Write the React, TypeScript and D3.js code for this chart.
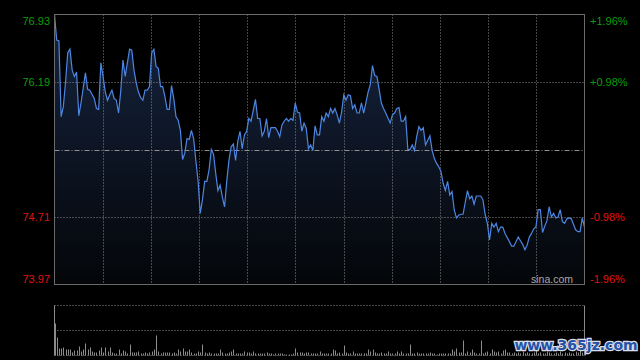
import React, { useEffect, useRef } from "react";
import * as d3 from "d3";

// intraday minutes (0 = open, 240 = close) and last price
const minutes = [
  0, 1, 2, 3, 4, 5, 6, 7, 8, 9, 10, 11, 12, 14, 15, 16, 18, 19, 20, 21, 22, 23, 24, 25, 26, 27, 28, 29, 30,
  31, 32, 34, 35, 36, 37, 38, 39, 40, 41, 42, 43, 44, 45, 46, 47, 48, 49, 50, 51, 52, 53, 54, 55, 56, 57, 58,
  59, 60, 61, 62, 63, 64, 65, 66, 67, 68, 69, 70, 71, 72, 73, 74, 75, 76, 77, 78, 79, 80, 81, 82, 83, 84, 85,
  86, 87, 88, 89, 90, 91, 92, 93, 94, 95, 96, 97, 98, 100, 101, 102, 103, 104, 105, 106, 107, 108, 109, 110,
  111, 112, 113, 114, 115, 116, 117, 118, 119, 120, 121, 122, 123, 124, 125, 126, 127, 128, 129, 130, 131,
  132, 133, 134, 135, 136, 137, 138, 139, 140, 141, 142, 143, 144, 145, 146, 147, 148, 149, 150, 152, 153,
  154, 155, 156, 157, 158, 159, 160, 161, 162, 163, 164, 165, 166, 167, 168, 170, 171, 172, 173, 174, 175,
  176, 177, 178, 179, 180, 181, 182, 183, 184, 185, 187, 188, 189, 190, 191, 193, 194, 195, 196, 197, 198,
  199, 200, 201, 202, 203, 204, 206, 207, 208, 210, 211, 212, 213, 214, 215, 216, 217, 218, 219, 220, 221,
  222, 223, 224, 225, 226, 227, 228, 229, 230, 231, 232, 233, 234, 236, 237, 238, 239, 240,
];
const prices = [
  76.93, 76.65, 76.64, 75.81, 75.92, 76.19, 76.51, 76.55, 76.32, 76.25, 76.3, 75.82, 75.96, 76.29, 76.11,
  76.1, 76.01, 75.9, 75.89, 76.4, 76.25, 76.08, 75.99, 76.05, 76.1, 76.01, 75.99, 75.85, 76.09, 76.43, 76.25,
  76.55, 76.54, 76.32, 76.18, 76.08, 76.02, 75.99, 76.1, 76.1, 76.14, 76.51, 76.55, 76.36, 76.34, 76.14,
  76.14, 76.03, 75.89, 75.89, 76.15, 76.01, 75.81, 75.77, 75.66, 75.34, 75.41, 75.57, 75.56, 75.66, 75.57,
  75.33, 75.11, 74.75, 74.9, 75.1, 75.1, 75.23, 75.45, 75.4, 75.19, 75.0, 75.06, 74.93, 74.82, 75.1, 75.33,
  75.48, 75.51, 75.33, 75.54, 75.65, 75.46, 75.61, 75.65, 75.79, 75.76, 75.88, 76.0, 75.79, 75.79, 75.6,
  75.65, 75.79, 75.58, 75.69, 75.69, 75.65, 75.59, 75.72, 75.76, 75.79, 75.76, 75.79, 75.77, 75.96, 75.86,
  75.85, 75.65, 75.74, 75.68, 75.46, 75.5, 75.44, 75.71, 75.61, 75.61, 75.81, 75.76, 75.85, 75.81, 75.9,
  75.85, 75.9, 75.83, 75.74, 75.86, 76.05, 75.99, 76.05, 76.04, 75.9, 75.94, 75.85, 75.85, 75.96, 75.85,
  75.96, 76.08, 76.16, 76.37, 76.26, 76.25, 76.11, 75.96, 75.9, 75.85, 75.74, 75.83, 75.85, 75.9, 75.91,
  75.76, 75.76, 75.81, 75.45, 75.45, 75.5, 75.44, 75.59, 75.7, 75.66, 75.69, 75.5, 75.6, 75.44, 75.35, 75.3,
  75.26, 75.21, 75.08, 75.0, 75.1, 74.95, 74.99, 74.79, 74.7, 74.73, 74.74, 74.74, 75.0, 74.91, 74.94, 74.85,
  74.94, 74.94, 74.9, 74.74, 74.64, 74.46, 74.64, 74.6, 74.64, 74.55, 74.6, 74.6, 74.53, 74.44, 74.39, 74.39,
  74.49, 74.45, 74.41, 74.35, 74.4, 74.49, 74.53, 74.58, 74.6, 74.79, 74.79, 74.54, 74.61, 74.67, 74.82,
  74.71, 74.75, 74.7, 74.71, 74.79, 74.66, 74.64, 74.69, 74.7, 74.69, 74.57, 74.55, 74.55, 74.7, 74.6,
];

// volume per minute (lots), minute 0..240
const volumes = [
  3200, 1800, 700, 700, 800, 600, 600, 600, 300, 500, 500, 900, 400, 600, 1200, 600, 800, 400, 300, 300,
  500, 800, 300, 800, 400, 800, 300, 200, 200, 600, 200, 500, 400, 200, 1100, 300, 300, 300, 400, 200,
  200, 300, 200, 300, 400, 600, 2000, 400, 200, 300, 300, 300, 300, 200, 300, 200, 600, 400, 700, 400,
  400, 600, 300, 200, 200, 400, 300, 1100, 300, 200, 300, 200, 200, 200, 200, 600, 300, 200, 200, 300,
  400, 600, 200, 200, 200, 200, 400, 300, 300, 200, 400, 200, 200, 200, 200, 200, 300, 200, 200, 100,
  200, 200, 200, 200, 100, 100, 100, 100, 200, 700, 300, 300, 300, 200, 300, 300, 200, 200, 200, 200,
  400, 200, 200, 200, 200, 200, 600, 500, 200, 300, 200, 1000, 300, 200, 200, 400, 200, 200, 200, 200,
  200, 200, 600, 400, 600, 300, 200, 200, 300, 200, 200, 400, 200, 200, 200, 400, 200, 400, 200, 200,
  200, 1100, 200, 200, 300, 200, 200, 200, 200, 200, 300, 200, 200, 100, 200, 200, 200, 200, 200, 200,
  600, 400, 700, 300, 300, 1500, 200, 400, 300, 600, 300, 200, 200, 1500, 200, 300, 400, 200, 600, 400,
  300, 400, 200, 500, 600, 300, 300, 200, 300, 200, 300, 200, 400, 200, 300, 200, 200, 300, 500, 200,
  300, 200, 200, 400, 300, 200, 200, 300, 200, 400, 200, 300, 200, 300, 200, 200, 400, 300, 500, 300, 800,
];

const prevClose = 75.45;
const priceTicks = [76.93, 76.19, 75.45, 74.71, 73.97];
const volumeMax = 5000;
const gridColumns = 11;

const App = () => {
  const ref = useRef<SVGSVGElement>(null);

  useEffect(() => {
    document.body.style.margin = "0";
    document.body.style.background = "#000";

    const svg = d3.select(ref.current);
    svg.selectAll("*").remove();

    const left = 54.5;
    const right = 584.5;
    const top = 14.5;
    const bottom = 284.5;
    const vTop = 305.5;
    const vBottom = 355.5;
    const font = "'Liberation Sans', Arial, sans-serif";

    const x = d3.scaleLinear().domain([0, 240]).range([left, right]);
    const y = d3.scaleLinear().domain([priceTicks[4], priceTicks[0]]).range([bottom, top]);
    const yv = d3.scaleLinear().domain([0, volumeMax]).range([vBottom, vTop]);
    const col = d3.scaleLinear().domain([0, gridColumns]).range([left, right]);

    svg.append("rect").attr("width", 640).attr("height", 360).attr("fill", "#000");

    // gradient under the price line
    const defs = svg.append("defs");
    const grad = defs
      .append("linearGradient")
      .attr("id", "areaFill")
      .attr("x1", 0)
      .attr("y1", 0)
      .attr("x2", 0)
      .attr("y2", 1);
    grad.append("stop").attr("offset", "0%").attr("stop-color", "#16243f");
    grad.append("stop").attr("offset", "100%").attr("stop-color", "#040609");

    const data = minutes.map((m, i) => ({ m, p: prices[i] }));

    const area = d3
      .area<{ m: number; p: number }>()
      .x((d) => x(d.m))
      .y0(bottom)
      .y1((d) => y(d.p));
    svg.append("path").datum(data).attr("d", area).attr("fill", "url(#areaFill)");

    // vertical grid
    svg
      .append("g")
      .selectAll("line")
      .data(d3.range(1, gridColumns))
      .join("line")
      .attr("x1", (d) => Math.round(col(d)) + 0.5)
      .attr("x2", (d) => Math.round(col(d)) + 0.5)
      .attr("y1", top)
      .attr("y2", bottom)
      .attr("stroke", "#8a8a8a")
      .attr("stroke-dasharray", "1,2");

    // horizontal grid, prev close drawn dash-dot
    svg
      .append("g")
      .selectAll("line")
      .data(priceTicks.slice(1, 4))
      .join("line")
      .attr("x1", left)
      .attr("x2", right)
      .attr("y1", (d) => Math.round(y(d)) + 0.5)
      .attr("y2", (d) => Math.round(y(d)) + 0.5)
      .attr("stroke", (d) => (d === prevClose ? "#909090" : "#8a8a8a"))
      .attr("stroke-dasharray", (d) => (d === prevClose ? "5,2,1,2" : "1,2"));

    // price line
    const line = d3
      .line<{ m: number; p: number }>()
      .x((d) => x(d.m))
      .y((d) => y(d.p));
    svg
      .append("path")
      .datum(data)
      .attr("d", line)
      .attr("fill", "none")
      .attr("stroke", "#4d86e2")
      .attr("stroke-width", 1.2);

    // frame of the price pane
    svg
      .append("rect")
      .attr("x", left)
      .attr("y", top)
      .attr("width", right - left)
      .attr("height", bottom - top)
      .attr("fill", "none")
      .attr("stroke", "#6a6a6a");

    // price labels (left) and change labels (right)
    const labelY = (p: number) => Math.min(Math.max(y(p), top + 6), bottom - 6);
    const shown = priceTicks.filter((p) => p !== prevClose);
    const colorOf = (p: number) => (p > prevClose ? "#0a9f0a" : "#e01010");

    svg
      .append("g")
      .selectAll("text")
      .data(shown)
      .join("text")
      .attr("x", 50)
      .attr("y", (d) => labelY(d))
      .attr("text-anchor", "end")
      .attr("dominant-baseline", "central")
      .attr("font-family", font)
      .attr("font-size", 11)
      .attr("fill", colorOf)
      .text((d) => d.toFixed(2));

    svg
      .append("g")
      .selectAll("text")
      .data(shown)
      .join("text")
      .attr("x", 590)
      .attr("y", (d) => labelY(d))
      .attr("dominant-baseline", "central")
      .attr("font-family", font)
      .attr("font-size", 11)
      .attr("fill", colorOf)
      .text((d) => {
        const pct = ((d - prevClose) / prevClose) * 100;
        return (pct > 0 ? "+" : "") + pct.toFixed(2) + "%";
      });

    svg
      .append("text")
      .attr("x", 573)
      .attr("y", 279)
      .attr("text-anchor", "end")
      .attr("dominant-baseline", "central")
      .attr("font-family", font)
      .attr("font-size", 10.5)
      .attr("fill", "#a8a8a8")
      .text("sina.com");

    // volume pane
    svg
      .append("g")
      .selectAll("line")
      .data([volumeMax, volumeMax / 2, 0])
      .join("line")
      .attr("x1", left)
      .attr("x2", right)
      .attr("y1", (d) => yv(d))
      .attr("y2", (d) => yv(d))
      .attr("stroke", "#8a8a8a")
      .attr("stroke-dasharray", "1,2");

    svg
      .append("g")
      .selectAll("rect")
      .data(volumes)
      .join("rect")
      .attr("x", (d, i) => Math.round(x(i)))
      .attr("y", (d) => yv(d))
      .attr("width", 1)
      .attr("height", (d) => vBottom - yv(d))
      .attr("fill", "#8c8c8c");

    svg
      .append("g")
      .selectAll("line")
      .data([left, right])
      .join("line")
      .attr("x1", (d) => d)
      .attr("x2", (d) => d)
      .attr("y1", vTop)
      .attr("y2", vBottom)
      .attr("stroke", "#8a8a8a");

    // site watermark
    svg
      .append("text")
      .attr("x", 576)
      .attr("y", 345)
      .attr("text-anchor", "middle")
      .attr("dominant-baseline", "central")
      .attr("font-family", "'DejaVu Sans', sans-serif")
      .attr("font-weight", "bold")
      .attr("font-size", 14)
      .attr("fill", "#2552a6")
      .attr("stroke", "#d8dde8")
      .attr("stroke-width", 2.5)
      .attr("paint-order", "stroke")
      .text("www.365jz.com");
  }, []);

  return (
    <svg
      ref={ref}
      width={640}
      height={360}
      style={{ position: "absolute", left: 0, top: 0, display: "block" }}
    />
  );
};

export default App;
